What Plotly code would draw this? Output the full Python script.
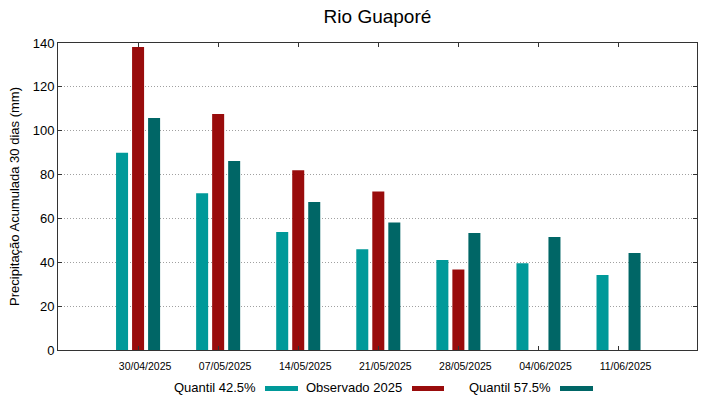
import plotly.graph_objects as go

categories = ["30/04/2025", "07/05/2025", "14/05/2025", "21/05/2025", "28/05/2025", "04/06/2025", "11/06/2025"]
q425 = [90.0, 71.5, 53.8, 46.0, 41.0, 39.6, 34.2]
observado = [138.2, 107.6, 82.0, 72.3, 36.7, None, None]
q575 = [105.8, 86.2, 67.5, 58.1, 53.4, 51.5, 44.2]
series_names = ["Quantil 42.5%", "Observado 2025", "Quantil 57.5%"]
colors = ["#009999", "#990c0c", "#006666"]
yticks = [0, 20, 40, 60, 80, 100, 120, 140]

x_idx = list(range(len(categories)))
font_family = "Liberation Sans, Arial, sans-serif"

W, H, L, R, T, B = 719, 399, 58, 22, 43, 49
PW, PH = W - L - R, H - T - B

fig = go.Figure()
for name, vals, col in zip(series_names, [q425, observado, q575], colors):
    fig.add_trace(go.Bar(x=x_idx, y=vals, name=name, marker=dict(color=col, line=dict(width=0)),
                         showlegend=False))

fig.update_layout(
    width=W, height=H,
    margin=dict(l=L, r=R, t=T, b=B, autoexpand=False),
    paper_bgcolor="white", plot_bgcolor="white",
    barmode="group", bargap=0.4, bargroupgap=0.25,
    font=dict(family=font_family, color="#000000"),
    title=dict(text="Rio Guaporé", x=0.525, xanchor="center", y=0.96, yanchor="middle",
               font=dict(size=19, family=font_family, color="#000")),
    xaxis=dict(range=[-1, 6.98], tickmode="array", tickvals=x_idx, ticktext=categories,
               tickfont=dict(size=10.5), ticks="inside", ticklen=4, tickcolor="#333",
               showline=True, linecolor="#333", linewidth=1, mirror="ticks",
               showgrid=False, zeroline=False, ticklabelshift=7, ticklabelstandoff=6,
               automargin=False),
    yaxis=dict(range=[0, 140], tickmode="array", tickvals=yticks,
               tickfont=dict(size=13), ticks="inside", ticklen=4, tickcolor="#333",
               showline=True, linecolor="#333", linewidth=1, mirror="ticks",
               showgrid=True, gridcolor="#a0a0a0", griddash="1px,2px", gridwidth=1,
               zeroline=False, automargin=False,
               title=dict(text="Precipitação Acumulada 30 dias (mm)", font=dict(size=13), standoff=10)),
)

# gnuplot-style legend: text followed by colour swatch
legend_items = [(258, 265, 298), (404, 412, 444), (553, 560, 593)]
for (txt_right, sx0, sx1), name, col in zip(legend_items, series_names, colors):
    fig.add_annotation(text=name, xref="paper", yref="paper",
                       x=(txt_right - L) / PW, y=-(387 - (H - B)) / PH,
                       xanchor="right", yanchor="middle", showarrow=False,
                       font=dict(size=13, family=font_family, color="#000"))
    fig.add_shape(type="rect", xref="paper", yref="paper",
                  x0=(sx0 - L) / PW, x1=(sx1 - L) / PW,
                  y0=-(391 - (H - B)) / PH, y1=-(386 - (H - B)) / PH,
                  fillcolor=col, line=dict(width=0))

fig.write_html("out.html", config={"displayModeBar": False},
               post_script="document.body.style.margin='0';")
